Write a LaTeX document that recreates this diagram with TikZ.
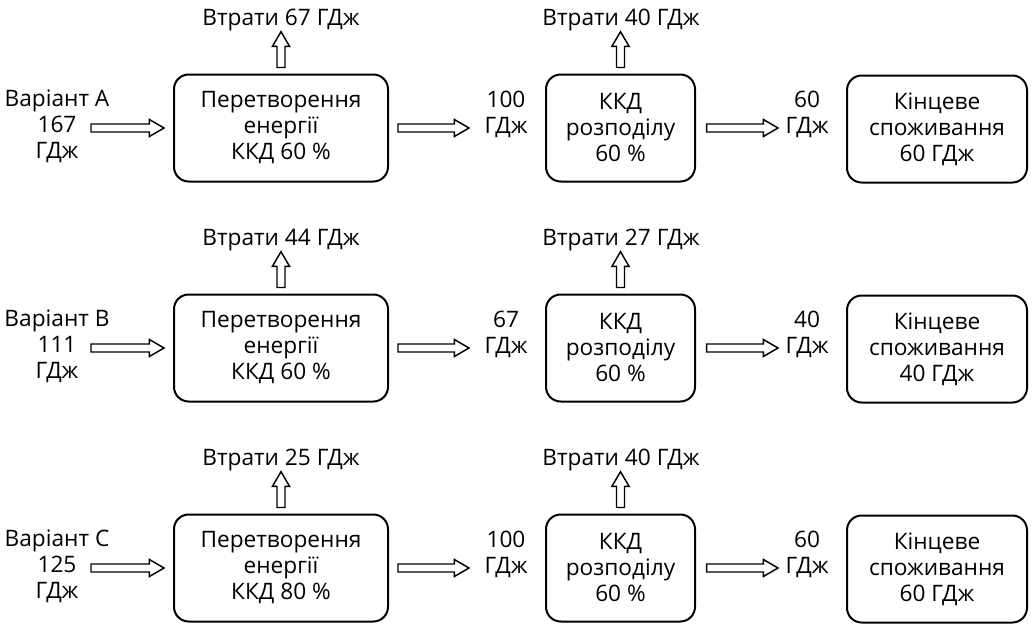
\documentclass[tikz,border=0pt]{standalone}
\usepackage{fontspec}
\setmainfont{Open Sans}
\usetikzlibrary{calc}
\begin{document}
\begin{tikzpicture}[x=0.75pt,y=-0.75pt,
  every node/.style={font=\fontsize{17}{19.5}\selectfont, align=center, inner sep=0pt},
  stage/.style={draw, line width=1.5pt, rounded corners=11pt, minimum height=80.25pt},
  % hollow block arrow, horizontal (left to right)
  harrow/.style={draw, line width=1.1pt, line join=miter, to path={
    let \p1=(\tikztostart), \p2=(\tikztotarget) in
    (\x1,\y1+3pt) -- (\x2-11pt,\y1+3pt) -- (\x2-11pt,\y1+6.4pt) -- (\x2,\y1)
    -- (\x2-11pt,\y1-6.4pt) -- (\x2-11pt,\y1-3pt) -- (\x1,\y1-3pt) -- cycle}},
  % hollow block arrow, vertical (bottom to top)
  varrow/.style={draw, line width=1.1pt, line join=miter, to path={
    let \p1=(\tikztostart), \p2=(\tikztotarget) in
    (\x1+3pt,\y1) -- (\x1+3pt,\y2-11pt) -- (\x1+6.4pt,\y2-11pt) -- (\x1,\y2)
    -- (\x1-6.4pt,\y2-11pt) -- (\x1-3pt,\y2-11pt) -- (\x1-3pt,\y1) -- cycle}}]
\useasboundingbox (0,0) rectangle (1033,625);
\foreach \r/\dy/\lbl/\inp/\lossa/\eff/\mid/\lossb/\outv in {
  a/0/Варіант А/167/67/60/100/40/60,
  b/220/Варіант В/111/44/60/67/27/40,
  c/440/Варіант С/125/25/80/100/40/60}{
  \begin{scope}[shift={(0,\dy)}]
    \node[stage, minimum width=160.5pt] (conv\r) at (281,128) {Перетворення\\енергії\\ККД \eff~\%};
    \node[stage, minimum width=111.75pt] (dist\r) at (620.5,128) {ККД\\розподілу\\60~\%};
    \node[stage, minimum width=135pt] (use\r) at (937,129) {Кінцеве\\споживання\\\outv~ГДж};
    \node (src\r) at (57,126) {\lbl\\\inp\\ГДж};
    \node (mid\r) at (506,114) {\mid\\ГДж};
    \node (out\r) at (807,114) {\outv\\ГДж};
    \node[anchor=base] (lossa\r) at (281,25) {Втрати \lossa~ГДж};
    \node[anchor=base] (lossb\r) at (621,25) {Втрати \lossb~ГДж};
    \coordinate (in\r) at ([xshift=-61.5pt]conv\r.west);
    \draw[harrow] (in\r) to ([xshift=-6.75pt]conv\r.west);
    \draw[harrow] ([xshift=6.75pt]conv\r.east) to ([xshift=-57pt]dist\r.west);
    \draw[harrow] ([xshift=8pt]dist\r.east) to ([xshift=-51pt]use\r.west);
    \draw[varrow] ([yshift=4.5pt]conv\r.north) to ([yshift=-5pt]lossa\r.base);
    \draw[varrow] ([yshift=4.5pt]dist\r.north) to ([yshift=-5pt]lossb\r.base);
  \end{scope}}
\end{tikzpicture}
\end{document}
